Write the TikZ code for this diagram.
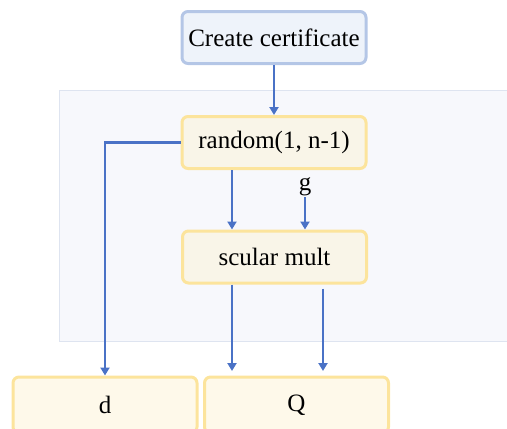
\documentclass[tikz,border=0pt]{standalone}
\usepackage{fontspec}
\setmainfont{Liberation Serif}
\usetikzlibrary{arrows.meta}
\definecolor{panelfill}{HTML}{F7F8FC}
\definecolor{paneldraw}{HTML}{DEE4F0}
\definecolor{bluefill}{HTML}{EEF3FA}
\definecolor{bluedraw}{HTML}{B4C6E6}
\definecolor{yelldraw}{HTML}{FCE49C}
\definecolor{yellfill}{HTML}{F9F5E8}
\definecolor{yellfillb}{HTML}{FEF9EA}
\definecolor{arrowblue}{HTML}{4A72C6}
\tikzset{
  label font/.style={font=\fontsize{25}{29}\selectfont},
  box/.style={rounded corners=6pt, line width=3pt, minimum width=184pt,
    minimum height=52pt, inner sep=0pt, label font},
  startbox/.style={box, draw=bluedraw, fill=bluefill},
  stepbox/.style={box, draw=yelldraw, fill=yellfill},
  outbox/.style={box, draw=yelldraw, fill=yellfillb},
  arr/.style={draw=arrowblue, line width=2.4pt,
    -{Triangle[length=8pt,width=9pt]}},
}
\begin{document}
\begin{tikzpicture}[x=1pt,y=-1pt]
\useasboundingbox (0,0) rectangle (507,429);
\begin{scope}
\clip (0,0) rectangle (507,429);
% background panel
\draw[fill=panelfill, draw=paneldraw, line width=1pt] (59,90) rectangle (530,341);

% nodes
\node[startbox] (create) at (274,37.5) {Create certificate};
\node[stepbox] (random) at (274,142.5) {random(1, n-1)};
\node[stepbox] (scular) at (274.5,257) {scular mult};
\node[label font, inner sep=1pt] (g) at (305,187) {g};
\node[outbox, minimum height=56pt] (d) at (105,405) {d};
\node[outbox, minimum height=56pt] (Q) at (296.5,405) {Q};

% connector positions
\coordinate (xa) at (232,0);
\coordinate (xb) at (323,0);
\coordinate (ya) at (0,371);

% connectors
\draw[arr] (create.south) -- (random.north);
\draw[arr] (random.west) -| (d.north);
\draw[arr] (random.south -| xa) -- (scular.north -| xa);
\draw[arr] (g.south) -- (scular.north -| g);
\draw[arr] (scular.south -| xa) -- (ya -| xa);
\draw[arr] ([yshift=-4pt]scular.south -| xb) -- (ya -| xb);
\end{scope}
\end{tikzpicture}
\end{document}
